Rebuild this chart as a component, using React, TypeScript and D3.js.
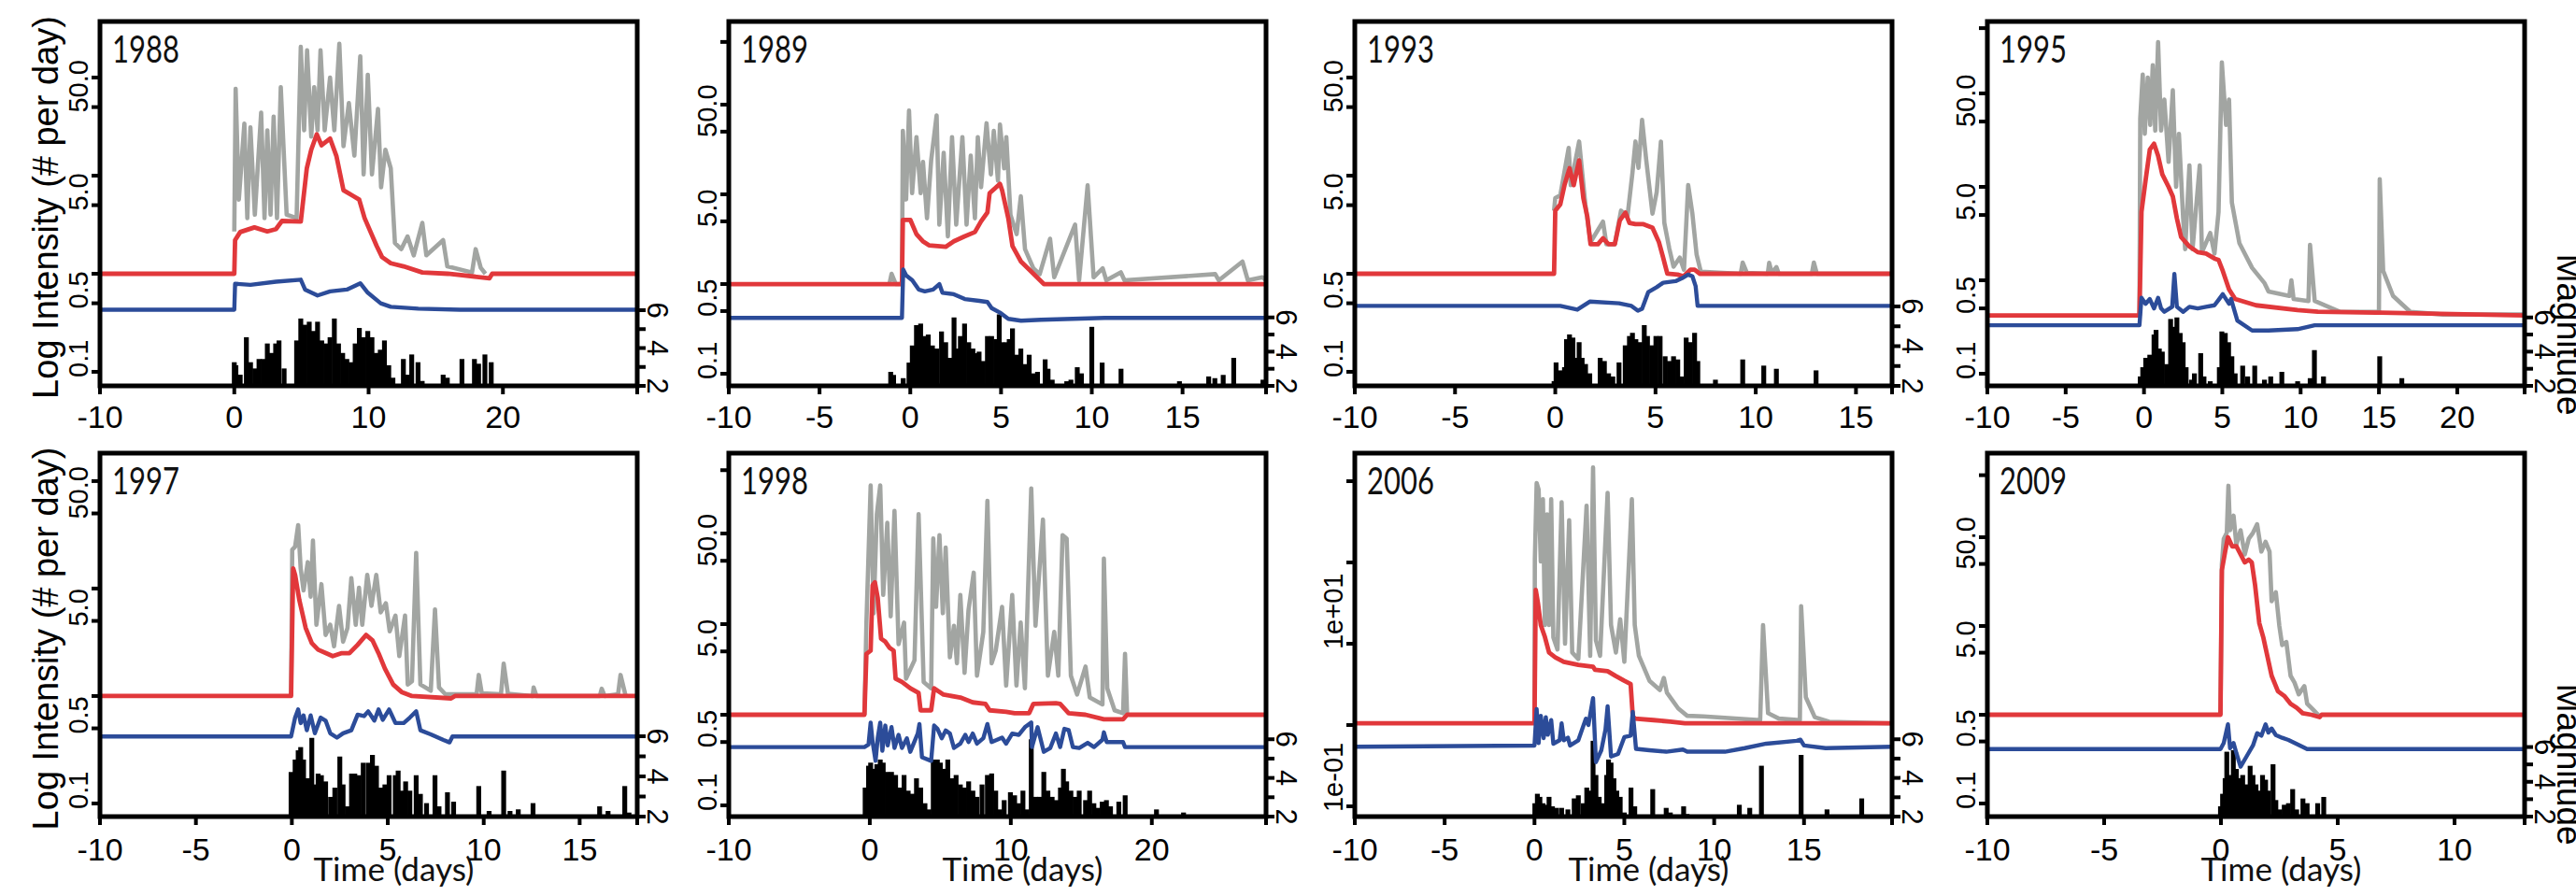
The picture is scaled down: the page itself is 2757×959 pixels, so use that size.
import React from 'react';
import * as d3 from 'd3';

type Pt = [number, number];

// ---- per-panel settings
const years = ['1988', '1989', '1993', '1995', '1997', '1998', '2006', '2009'];
const dayMax = [30, 19.6, 16.8, 24.3, 18, 28.1, 19.9, 13];
const rateLow = [0.0719, 0.0733, 0.0719, 0.0741, 0.0755, 0.0752, 0.0748, 0.0712];
const rateHigh = [373, 845, 373, 589, 182, 771, 2214, 886];
const magHigh = [21.26, 23.3, 20.35, 23.3, 20.1, 20.8, 20.8, 22.9];
const dayTicks: number[][] = [
  [-10, 0, 10, 20],
  [-10, -5, 0, 5, 10, 15],
  [-10, -5, 0, 5, 10, 15],
  [-10, -5, 0, 5, 10, 15, 20],
  [-10, -5, 0, 5, 10, 15],
  [-10, 0, 10, 20],
  [-10, -5, 0, 5, 10, 15],
  [-10, -5, 0, 5, 10],
];
const rateTicks = [0.1, 0.5, 1, 5, 10, 50, 100, 500];
const rateTickLabels: [number, string][] = [[0.1, '0.1'], [0.5, '0.5'], [5, '5.0'], [50, '50.0']];
const sciTicks = [0.1, 1, 10, 100, 1000];
const sciTickLabels: [number, string][] = [[0.1, '1e-01'], [10, '1e+01']];
const magTicks = [2, 3, 4, 5, 6];
const magTickLabels = [2, 4, 6];

// ---- 1988
const grey1988: Pt[] = [[0,2.7],[0.1,77],[0.34,5.7],[0.75,34],[0.97,3.7],[1.2,31],[1.53,4],[2,44],[2.25,3.7],[2.46,29],[2.7,4],[2.93,40],[3.18,3.7],[3.46,80],[3.9,4],[4.64,3.7],[4.95,206],[5.2,29],[5.42,190],[5.73,25],[5.95,80],[6.2,29],[6.42,190],[6.73,29],[7.13,100],[7.45,29],[7.82,221],[8.13,20],[8.53,55],[8.94,16],[9.38,165],[9.63,10.3],[9.94,107],[10.25,10.3],[10.7,48],[10.93,7.6],[11.25,18.4],[11.65,11.9],[11.96,2.06],[12.43,1.78],[12.9,2.4],[13.36,1.54],[14,3.3],[14.3,1.54],[15.55,2.2],[15.86,1.19],[17.7,1.03],[17.97,1.78],[18.35,1.15],[18.7,1]];
const red1988: Pt[] = [[-10,1],[0,1],[0.06,2.2],[0.44,2.66],[1.5,2.97],[2.46,2.7],[3.1,2.85],[3.55,3.45],[4.95,3.4],[5.4,11.9],[5.73,18.4],[6.14,26.4],[6.5,20.4],[7.13,23.9],[7.6,15.9],[8.13,7.1],[8.85,6.2],[9.3,5.7],[9.7,3.7],[10.6,1.92],[11,1.48],[11.65,1.28],[12.6,1.19],[14,1.03],[15.9,1],[19,0.9],[19.2,1],[30,1]];
const blue1988: Pt[] = [[-10,0.43],[0,0.43],[0.06,0.79],[1.2,0.77],[3.1,0.83],[4.95,0.87],[5.27,0.69],[6.2,0.6],[7.13,0.66],[8.38,0.69],[9.38,0.8],[9.94,0.64],[10.9,0.5],[11.65,0.46],[13.7,0.44],[16.8,0.43],[30,0.43]];
const mags1988: Pt[] = [[0,3.25],[0.12,3.09],[0.44,2.59],[0.9,4.57],[1.21,3.25],[1.53,2.92],[1.84,3.42],[2.15,3.42],[2.46,4.24],[2.77,3.74],[3.08,4.24],[3.33,4.4],[3.71,2.92],[4.02,2.1],[4.64,4.4],[4.95,5.56],[5.26,5.23],[5.58,5.39],[5.89,4.9],[6.2,5.39],[6.51,4.4],[6.82,4.24],[7.13,4.57],[7.45,5.56],[7.76,4.24],[8.07,3.74],[8.38,3.42],[8.69,3.25],[9,4.24],[9.31,5.06],[9.63,4.57],[9.94,4.9],[10.25,4.57],[10.56,3.74],[10.87,3.91],[11.18,4.4],[11.5,3.09],[11.81,2.43],[12.59,3.42],[12.9,2.59],[13.21,3.66],[13.68,3.25],[13.99,2.26],[15.55,2.59],[15.86,2.43],[16.95,3.42],[17.88,3.42],[18.19,3.17],[18.66,3.66],[19.13,3.25]];

// ---- 1989
const grey1989: Pt[] = [[-1.15,1],[-1.03,1.3],[-0.8,1],[-0.46,1],[-0.41,51],[-0.23,8.8],[-0.07,86],[0.1,10.3],[0.34,43.5],[0.57,10.3],[0.7,23],[0.92,5.4],[1.15,24],[1.45,76],[1.6,4.6],[1.84,29],[2.07,3.4],[2.3,43.5],[2.53,4.6],[2.87,43.5],[3.1,4.6],[3.33,27],[3.56,5.4],[3.72,43.5],[3.9,12],[4.2,62],[4.44,16.7],[4.6,51],[4.83,14.2],[4.94,60],[5.17,19.5],[5.29,43.5],[5.52,5.9],[5.86,3.6],[6.09,9.5],[6.32,2.45],[6.78,1.5],[7.13,1.29],[7.7,3.2],[7.93,1.19],[9.08,4.6],[9.3,1.1],[9.77,12.6],[10.1,1.19],[10.6,1.5],[10.8,1.1],[11.6,1.35],[11.8,1.1],[16.8,1.29],[17,1.1],[18.3,1.78],[18.6,1.1],[19.4,1.19],[19.6,1.1]];
const red1989: Pt[] = [[-10,1],[-0.46,1],[-0.41,5.2],[0,5.2],[0.34,3.6],[0.69,3],[1.03,2.7],[1.5,2.65],[1.95,2.6],[2.4,3],[2.99,3.4],[3.56,3.8],[3.9,5],[4.25,6.3],[4.37,10.3],[4.94,13.1],[5.06,11.1],[5.4,5.4],[5.63,2.65],[6.1,1.78],[6.55,1.45],[7.36,1],[19.6,1]];
const blue1989: Pt[] = [[-10,0.42],[-0.46,0.42],[-0.39,1.45],[-0.23,1.25],[0.11,1.1],[0.46,0.87],[0.8,0.83],[1.26,0.87],[1.6,1],[1.77,0.8],[2.4,0.77],[3,0.68],[3.8,0.65],[4.25,0.63],[4.48,0.54],[4.94,0.48],[5.4,0.41],[6.1,0.39],[7.2,0.4],[10.7,0.42],[19.6,0.42]];
const mags1989: Pt[] = [[-1.08,2.82],[-0.92,2.64],[-0.39,2.45],[-0.07,3.36],[0.11,4.36],[0.34,5.55],[0.57,5.64],[0.76,4.91],[0.99,5],[1.22,4.36],[1.45,4.18],[1.72,5.18],[1.95,4.55],[2.18,3.64],[2.41,6],[2.6,4.18],[2.76,4.91],[2.99,5.64],[3.22,4.55],[3.45,4.18],[3.61,3.91],[3.79,4],[4.02,3.45],[4.25,4.91],[4.48,4.91],[4.71,4.73],[4.9,6.18],[5.06,4.55],[5.29,4.55],[5.45,4.73],[5.63,5.36],[5.86,3.82],[6.09,4.18],[6.32,3.27],[6.55,3.82],[6.78,2.73],[7.01,2.82],[7.43,3.55],[7.59,3],[7.82,2.36],[8.62,2.27],[8.85,2.36],[9.2,3.09],[9.43,2.73],[10,5.45],[10.57,3.36],[11.61,3],[14.83,2.27],[16.44,2.55],[16.78,2.45],[17.24,2.64],[17.82,3.64],[19.43,2.36]];

// ---- 1993
const grey1993: Pt[] = [[-0.06,4.4],[0,5.9],[0.25,6.3],[0.67,19.2],[0.77,8],[1.19,22.3],[1.5,5.1],[1.76,2.1],[2.38,3.4],[2.55,2],[2.97,2],[3.28,4.4],[3.6,3.8],[3.85,10.7],[4,22.3],[4.15,12],[4.33,37],[4.54,14.3],[4.85,4.1],[5.06,6.8],[5.27,22.3],[5.44,3.3],[5.69,1.8],[5.9,1.18],[6.21,1.46],[6.42,1.1],[6.63,8],[6.84,4.1],[7.05,1.57],[7.26,1.05],[9.25,1],[9.35,1.3],[9.56,1.02],[10.6,1],[10.67,1.29],[10.8,1.02],[11.03,1.17],[11.15,1],[12.8,1],[12.9,1.3],[13.05,1],[16.8,1]];
const red1993: Pt[] = [[-10,1],[-0.06,1],[0,4.4],[0.25,5.1],[0.46,8],[0.71,11.9],[0.92,8],[1.19,14.3],[1.4,5.9],[1.6,3.8],[1.76,2],[2.13,2],[2.38,2.3],[2.66,2],[2.97,2],[3.22,3.5],[3.5,4.2],[3.7,3.3],[4,3.2],[4.4,3.2],[4.85,2.95],[5.17,2.1],[5.38,1.46],[5.59,1],[6.1,0.98],[6.4,0.94],[6.74,1.1],[6.95,1.1],[7.2,1],[16.8,1]];
const blue1993: Pt[] = [[-10,0.47],[0.25,0.47],[1.1,0.43],[1.72,0.52],[3.18,0.5],[3.8,0.47],[4.12,0.42],[4.33,0.44],[4.64,0.65],[5.06,0.73],[5.38,0.81],[6,0.84],[6.32,0.9],[6.63,0.98],[6.84,0.94],[7,0.75],[7.1,0.47],[16.8,0.47]];
const mags1993: Pt[] = [[-0.06,2.24],[0.04,3.18],[0.25,2.78],[0.46,2.94],[0.56,4.35],[0.71,4.59],[0.88,4.43],[0.98,3.41],[1.19,4.2],[1.34,3.41],[1.51,3.1],[1.72,2.63],[2.24,3.41],[2.45,3.25],[2.66,2.63],[2.87,2.47],[3.18,3.18],[3.49,4.04],[3.7,4.51],[3.85,4.67],[4.02,4.35],[4.23,4.2],[4.44,5.06],[4.6,4.51],[4.81,4.04],[5.02,4.51],[5.23,4.51],[5.48,3.49],[5.69,3.25],[5.9,3.49],[6.11,3.33],[6.32,2.47],[6.53,4.43],[6.74,4.2],[6.95,4.67],[7.11,3.25],[7.99,2.31],[9.35,3.33],[10.4,3.02],[11.03,2.86],[13.01,2.78]];

// ---- 1995
const grey1995: Pt[] = [[-0.29,0.42],[-0.24,54],[-0.08,159],[0.05,37],[0.24,148],[0.4,46],[0.56,200],[0.72,40],[0.9,354],[1.09,40],[1.3,86],[1.57,18.5],[1.84,108],[2.05,10],[2.23,37],[2.5,4.6],[2.63,2.15],[2.9,17],[3.1,2.15],[3.56,17],[3.7,2],[4.23,3.2],[4.5,1.93],[4.76,5.4],[4.97,215],[5.24,46],[5.43,86],[5.61,6.8],[6.09,2.5],[6.9,1.36],[7.7,0.93],[7.95,0.76],[9.28,0.68],[9.41,1],[9.55,0.63],[10.5,0.6],[10.6,2.4],[10.9,0.6],[12.5,0.46],[15,0.46],[15.05,12.1],[15.27,1.26],[15.9,0.68],[17,0.46],[19.1,0.43],[24.3,0.43]];
const red1995: Pt[] = [[-10,0.42],[-0.29,0.42],[-0.16,5.4],[0.1,11.7],[0.37,25],[0.64,29],[0.9,21.5],[1.17,13.6],[1.57,10],[1.84,7.9],[2.1,4.6],[2.37,2.9],[2.9,2.3],[3.43,2],[3.96,1.93],[4.5,1.71],[4.76,1.65],[5.03,1.26],[5.43,0.8],[5.82,0.63],[7.15,0.54],[9.8,0.48],[11.1,0.46],[15.1,0.45],[24.3,0.42]];
const blue1995: Pt[] = [[-10,0.33],[-0.29,0.33],[-0.16,0.65],[0.1,0.56],[0.37,0.63],[0.64,0.5],[0.9,0.65],[1.09,0.5],[1.3,0.46],[1.8,0.52],[1.94,1.17],[2.1,0.52],[2.5,0.46],[2.9,0.52],[3.43,0.5],[3.96,0.52],[4.5,0.54],[4.8,0.63],[5.03,0.71],[5.43,0.56],[5.56,0.63],[5.96,0.37],[6.9,0.29],[7.95,0.29],[9.8,0.3],[10.9,0.33],[15.1,0.33],[24.3,0.33]];
const mags1995: Pt[] = [[-0.24,2.55],[-0.08,3.09],[0.11,3.64],[0.37,3.82],[0.64,5],[0.77,5.27],[0.98,4.18],[1.17,4],[1.44,3.27],[1.7,5.91],[1.89,5.45],[2.1,6],[2.31,5.09],[2.5,4.55],[2.69,3.09],[3.03,2.36],[3.22,2.73],[3.62,3.91],[3.83,2.55],[4.23,2.27],[4.81,3.09],[4.97,5.18],[5.19,5.09],[5.4,4.55],[5.61,3.73],[5.82,2.73],[6.3,3.18],[6.62,2.55],[7.07,3.18],[7.69,2.36],[8.09,2.55],[8.8,2.82],[9.81,2.27],[10.61,2.45],[10.88,4.09],[11.46,2.55],[15.05,3.73],[16.46,2.45]];

// ---- 1997
const grey1997: Pt[] = [[-0.04,1],[0.02,23],[0.17,24.5],[0.33,39],[0.46,15.4],[0.61,9.6],[0.83,17.6],[0.98,8.4],[1.1,28],[1.28,4.6],[1.54,11],[1.76,3.7],[2,4.6],[2.2,2.9],[2.46,6.9],[2.67,3.2],[2.9,4.3],[3.1,12.5],[3.33,4.6],[3.5,10.2],[3.67,4.6],[3.93,13.4],[4.15,6.9],[4.4,13.4],[4.63,6],[4.9,7.3],[5.1,4],[5.4,5.6],[5.6,2.35],[5.9,5.6],[6.04,1.28],[6.26,1.37],[6.48,21.5],[6.7,1.28],[7.24,1.12],[7.46,6.4],[7.67,1.2],[8,1.04],[9.63,1.04],[9.74,1.57],[9.9,1.06],[10.9,1.04],[11.04,2],[11.26,1.05],[12.55,1],[12.6,1.2],[12.75,1],[16.05,1],[16.15,1.17],[16.3,1],[17,1.04],[17.13,1.57],[17.4,1]];
const red1997: Pt[] = [[-10,1],[-0.04,1],[0.07,15.4],[0.17,13.4],[0.39,7.8],[0.72,4.3],[1.04,3.1],[1.37,2.7],[1.8,2.5],[2.13,2.35],[2.57,2.5],[3,2.5],[3.43,3],[3.87,3.7],[4.2,3.3],[4.52,2.5],[4.85,1.8],[5.28,1.28],[5.72,1.09],[6.26,1],[8.3,0.95],[8.5,1],[18,1]];
const blue1997: Pt[] = [[-10,0.42],[-0.04,0.42],[0.17,0.63],[0.33,0.75],[0.46,0.56],[0.61,0.66],[0.78,0.48],[0.98,0.66],[1.2,0.45],[1.5,0.63],[1.76,0.59],[2,0.45],[2.35,0.41],[2.67,0.45],[3.1,0.48],[3.43,0.67],[3.76,0.65],[3.98,0.72],[4.3,0.59],[4.52,0.75],[4.74,0.6],[5.07,0.75],[5.4,0.56],[5.83,0.56],[6.15,0.63],[6.48,0.72],[6.7,0.48],[7.24,0.44],[7.9,0.39],[8.22,0.37],[8.37,0.42],[18,0.42]];
const mags1997: Pt[] = [[-0.04,4.22],[0.17,4.84],[0.33,5.3],[0.46,5.46],[0.61,4.84],[0.76,3.91],[0.93,3.91],[1.04,5.92],[1.2,3.6],[1.37,4.14],[1.54,4.06],[1.76,3.75],[2.02,2.98],[2.24,3.44],[2.5,4.99],[2.67,3.6],[2.89,2.51],[3.11,4.14],[3.28,4.14],[3.5,4.06],[3.72,4.68],[3.98,4.68],[4.2,5.07],[4.41,4.53],[4.63,3.44],[4.85,3.6],[5.07,4.06],[5.39,4.06],[5.54,4.29],[5.72,3.29],[5.93,3.75],[6.15,3.29],[6.48,4.06],[6.7,3.13],[7.02,2.67],[7.46,4.06],[7.67,2.51],[8.11,3.21],[8.43,2.74],[9.74,3.52],[10.28,2.28],[11.04,4.29],[11.37,2.28],[11.8,2.36],[12.57,2.67],[16.04,2.51],[16.48,2.28],[17.35,3.52],[17.57,2.2]];

// ---- 1998
const grey1998: Pt[] = [[-0.38,1],[-0.24,10.4],[0.06,340],[0.27,13.2],[0.5,164],[0.74,340],[0.95,21],[1.24,131],[1.48,12.2],[1.75,178],[2.04,6],[2.43,10.4],[2.57,2.5],[3.17,4],[3.46,164],[3.82,2.3],[4.35,1.96],[4.5,88],[4.7,15.5],[4.94,96],[5.18,13.2],[5.38,70],[5.68,4.3],[5.97,9.6],[6.18,3.7],[6.42,21],[6.72,2.9],[7,14.3],[7.37,37],[7.6,2.7],[8.05,8.2],[8.34,230],[8.64,3.7],[8.93,5.1],[9.38,15.5],[9.67,2.1],[10.1,21],[10.4,2.1],[10.7,10.4],[11,1.96],[11.45,315],[11.75,9.6],[12.28,143],[12.63,2.7],[13.08,8.2],[13.37,2.7],[13.67,96],[13.96,88],[14.26,2.7],[14.7,1.67],[15.3,3.4],[15.6,1.55],[16.5,1.3],[16.6,53],[16.84,1.96],[17.36,1.12],[17.96,1.04],[18.1,4.7],[18.25,1]];
const red1998: Pt[] = [[-10,1],[-0.38,1],[-0.24,4.7],[0.06,5.1],[0.2,26.9],[0.36,29],[0.56,19.5],[0.8,6.9],[1.1,6.4],[1.39,5.5],[1.69,5.1],[1.83,2.5],[2.28,2.3],[2.87,1.96],[3.46,1.74],[3.6,1.12],[4.35,1.12],[4.56,1.96],[5.23,1.67],[6.42,1.55],[7.3,1.37],[8.2,1.32],[8.5,1.12],[9.67,1.08],[10.27,1.04],[11.3,1.04],[11.6,1.32],[13.2,1.34],[13.5,1.32],[14.1,1.04],[15.3,1],[16.6,0.89],[17.96,0.89],[18.25,1],[28.1,1]];
const blue1998: Pt[] = [[-10,0.44],[-0.38,0.44],[-0.09,0.47],[0.06,0.82],[0.2,0.5],[0.41,0.31],[0.56,0.55],[0.74,0.82],[0.89,0.4],[1.1,0.76],[1.27,0.46],[1.54,0.73],[1.75,0.43],[2.04,0.6],[2.28,0.43],[2.63,0.55],[2.87,0.39],[3.4,0.62],[3.52,0.79],[3.7,0.34],[4.35,0.31],[4.56,0.76],[4.8,0.7],[5.1,0.55],[5.38,0.67],[5.68,0.62],[5.97,0.43],[6.42,0.48],[6.77,0.6],[7,0.5],[7.3,0.62],[7.6,0.48],[8.05,0.55],[8.34,0.79],[8.64,0.5],[9.38,0.56],[9.67,0.48],[10.1,0.62],[10.56,0.6],[11,0.73],[11.45,0.82],[11.5,0.44],[11.9,0.73],[12.34,0.39],[12.8,0.43],[13.2,0.62],[13.5,0.44],[13.8,0.7],[14.1,0.68],[14.4,0.44],[14.85,0.43],[15.45,0.49],[15.9,0.44],[16.5,0.53],[16.6,0.64],[16.8,0.5],[17.96,0.5],[18.1,0.44],[28.1,0.44]];
const mags1998: Pt[] = [[-0.33,3.5],[-0.09,4.63],[0.06,4.79],[0.27,4.47],[0.5,4.71],[0.74,4.95],[0.95,4.79],[1.24,4.31],[1.54,4.31],[1.83,4.15],[2.13,3.5],[2.43,4.15],[2.72,3.34],[3.02,3.18],[3.31,3.98],[3.61,3.5],[3.91,2.69],[4.2,2.37],[4.5,4.95],[4.79,4.95],[5,4.79],[5.24,4.47],[5.53,4.95],[5.83,3.98],[6.12,4.15],[6.42,3.66],[6.72,3.5],[7.01,3.82],[7.31,3.34],[7.6,3.02],[7.96,3.66],[8.34,4.15],[8.64,4.23],[8.93,3.34],[9.23,2.37],[9.53,2.85],[9.97,3.26],[10.27,3.1],[10.56,2.69],[10.86,3.34],[11.15,2.37],[11.45,6],[11.75,3.02],[12.04,3.02],[12.34,4.31],[12.63,3.34],[12.93,3.02],[13.22,2.85],[13.52,3.5],[13.73,4.47],[13.96,3.82],[14.26,3.34],[14.56,3.02],[14.85,3.34],[15.3,2.85],[15.59,3.34],[15.89,2.69],[16.18,2.45],[16.48,2.77],[16.78,2.85],[17.07,2.53],[17.66,2.77],[18.11,3.1],[20.33,2.37],[22.25,2.21]];

// ---- 2006
const grey2006: Pt[] = [[0,1.05],[0.02,110],[0.12,950],[0.23,790],[0.35,103],[0.47,600],[0.58,17],[0.7,390],[0.81,17],[0.93,600],[1.05,12],[1.28,8.5],[1.51,550],[1.7,10],[1.93,330],[2.1,7.8],[2.44,6.5],[2.9,500],[3.1,7.1],[3.26,1480],[3.42,11],[3.65,7.1],[4.07,720],[4.26,17],[4.53,7.8],[4.77,20],[5,6],[5.42,600],[5.58,17],[5.81,7.1],[6.4,3.5],[6.98,2.7],[7.2,3.8],[7.37,2.5],[8,1.6],[8.5,1.3],[9.4,1.28],[12.56,1.15],[12.72,17],[13,1.4],[13.6,1.2],[14.77,1.15],[14.84,29],[15.1,2.2],[15.6,1.25],[16.4,1.1],[19.9,1.05]];
const red2006: Pt[] = [[-10,1.05],[0,1.05],[0.07,46],[0.19,32],[0.35,17],[0.58,12.1],[0.81,7.8],[1.16,6.8],[1.63,6],[2.44,5.5],[3.26,5.2],[3.37,4.8],[4.07,4.6],[4.53,4],[5,3.5],[5.35,3.2],[5.47,1.3],[5.58,1.2],[6.63,1.15],[7.56,1.1],[8.37,1.05],[19.9,1.05]];
const blue2006: Pt[] = [[-10,0.54],[0,0.56],[0.12,1.57],[0.23,0.6],[0.35,1.3],[0.51,0.69],[0.63,1.25],[0.74,0.76],[0.93,1.15],[1.05,0.59],[1.4,0.65],[1.51,1.05],[1.63,0.65],[1.86,0.7],[1.98,0.56],[2.44,0.65],[2.86,1.2],[3,1],[3.26,2.15],[3.42,0.35],[3.72,0.49],[3.95,0.88],[4.07,1.7],[4.26,0.41],[4.65,0.44],[5,0.71],[5.35,0.74],[5.47,1.45],[5.65,0.51],[6.4,0.49],[7.33,0.47],[8.26,0.5],[8.5,0.47],[10.6,0.47],[11.7,0.52],[12.9,0.59],[14.6,0.64],[14.8,0.66],[15,0.56],[16.2,0.52],[19.9,0.54]];
const mags2006: Pt[] = [[0.02,2.69],[0.16,3.18],[0.3,3.02],[0.47,2.69],[0.63,2.61],[0.81,3.02],[1,2.53],[1.23,2.45],[1.51,2.45],[1.86,2.37],[2.21,2.94],[2.44,3.1],[2.72,2.69],[2.91,3.5],[3.09,3.34],[3.26,5.92],[3.42,4.15],[3.6,3.02],[3.84,2.69],[4.02,4.15],[4.12,4.95],[4.26,4.79],[4.42,3.98],[4.58,3.34],[4.77,3.02],[5,2.21],[5.37,3.5],[5.58,2.53],[6.58,3.42],[7.33,2.45],[7.56,2.21],[8.3,2.53],[8.49,2.13],[11.4,2.61],[11.98,2.45],[12.63,4.63],[14.84,5.19],[16.28,2.37],[18.21,2.94]];

// ---- 2009
const grey2009: Pt[] = [[-0.02,1],[0.04,50],[0.12,96],[0.25,112],[0.32,380],[0.39,120],[0.54,175],[0.66,82],[0.84,120],[1.02,64],[1.19,96],[1.37,112],[1.55,140],[1.73,69],[1.91,89],[2.08,69],[2.17,19],[2.35,24],[2.5,10],[2.62,6.1],[2.8,6.6],[2.98,2.75],[3.15,2.3],[3.33,1.7],[3.57,2.1],[3.69,1.33],[3.96,1.13],[4.22,0.96]];
const red2009: Pt[] = [[-10,1],[-0.02,1],[0.04,42.6],[0.18,69],[0.3,100],[0.48,79],[0.66,79],[0.78,69],[1.02,52],[1.19,56],[1.32,52],[1.46,29],[1.64,10.8],[1.82,7.3],[2,4.4],[2.17,2.75],[2.44,1.84],[2.71,1.63],[2.98,1.33],[3.24,1.2],[3.5,1.04],[3.87,1],[4.22,0.94],[4.31,1],[13,1]];
const blue2009: Pt[] = [[-10,0.41],[-0.02,0.41],[0.12,0.48],[0.3,0.78],[0.39,0.42],[0.54,0.48],[0.66,0.37],[0.84,0.26],[1.1,0.34],[1.37,0.45],[1.55,0.62],[1.73,0.58],[1.91,0.78],[2.03,0.63],[2.17,0.7],[2.35,0.59],[2.62,0.55],[2.89,0.52],[3.24,0.47],[3.69,0.41],[13,0.41]];
const mags2009: Pt[] = [[-0.02,2.59],[0.07,3.31],[0.18,4.21],[0.25,5.73],[0.39,4.39],[0.53,5.82],[0.66,4.74],[0.78,4.21],[0.93,4.39],[1.07,3.85],[1.25,4.92],[1.37,4.39],[1.5,3.85],[1.64,3.49],[1.78,4.39],[1.91,4.12],[2.03,3.49],[2.23,5.01],[2.35,2.95],[2.53,2.41],[2.71,2.68],[2.89,2.77],[3.07,3.58],[3.24,2.41],[3.51,3.04],[3.69,2.77],[4.14,2.77],[4.4,3.13]];

const greySeries = [grey1988, grey1989, grey1993, grey1995, grey1997, grey1998, grey2006, grey2009];
const redSeries = [red1988, red1989, red1993, red1995, red1997, red1998, red2006, red2009];
const blueSeries = [blue1988, blue1989, blue1993, blue1995, blue1997, blue1998, blue2006, blue2009];
const magSeries = [mags1988, mags1989, mags1993, mags1995, mags1997, mags1998, mags2006, mags2009];

// ---- layout
const W = 2757;
const H = 959;
const colLeft = [107, 780, 1450, 2127];
const plotW = 575;
const rowTop = [23, 485];
const rowBottom = [413, 874];

const GREY = '#a2a5a2';
const RED = '#e1383b';
const BLUE = '#2c4c99';
const tickFont = '"Liberation Sans", Arial, Helvetica, sans-serif';
const labelFont = 'Lato, "Liberation Sans", sans-serif';

function Panel({ i }: { i: number }) {
  const col = i % 4;
  const row = Math.floor(i / 4);
  const left = colLeft[col];
  const right = left + plotW;
  const top = rowTop[row];
  const bottom = rowBottom[row];

  const x = d3.scaleLinear().domain([-10, dayMax[i]]).range([left, right]);
  const y = d3.scaleLog().domain([rateLow[i], rateHigh[i]]).range([bottom, top]);
  const m = d3.scaleLinear().domain([2, magHigh[i]]).range([bottom, top]);
  const path = d3.line<Pt>().x(d => x(d[0])).y(d => y(d[1]));

  // 2006 uses scientific labels on its log axis
  const sci = years[i] === '2006';
  const yTicks = (sci ? sciTicks : rateTicks).filter(v => v >= rateLow[i] && v <= rateHigh[i]);
  const yLabels = sci ? sciTickLabels : rateTickLabels;
  const clipId = `clip-${years[i]}`;
  const xTicks = [...dayTicks[i], dayMax[i]];

  return (
    <g>
      <defs>
        <clipPath id={clipId}>
          <rect x={left} y={top} width={plotW} height={bottom - top} />
        </clipPath>
      </defs>
      <g clipPath={`url(#${clipId})`}>
        {magSeries[i].map(([t, mag], k) => (
          <line key={k} x1={x(t)} x2={x(t)} y1={m(2)} y2={m(mag)} stroke="#000" strokeWidth={5.2} />
        ))}
        <path d={path(greySeries[i]) ?? ''} fill="none" stroke={GREY} strokeWidth={4.6} strokeLinejoin="round" />
        <path d={path(redSeries[i]) ?? ''} fill="none" stroke={RED} strokeWidth={4.8} strokeLinejoin="round" />
        <path d={path(blueSeries[i]) ?? ''} fill="none" stroke={BLUE} strokeWidth={4.4} strokeLinejoin="round" />
      </g>
      <rect x={left} y={top} width={plotW} height={bottom - top} fill="none" stroke="#000" strokeWidth={5} />

      {/* left log axis */}
      {yTicks.map(v => (
        <line key={v} x1={left} x2={left - 9} y1={y(v)} y2={y(v)} stroke="#000" strokeWidth={4} />
      ))}
      {yLabels.map(([v, s]) => (
        <text key={s} transform={`translate(${left - 13},${y(v) + 6}) rotate(-90)`}
          fontSize={29} fontFamily={tickFont} fill="#000">{s}</text>
      ))}

      {/* right magnitude axis */}
      {magTicks.map(v => (
        <line key={v} x1={right} x2={right + 9} y1={m(v)} y2={m(v)} stroke="#000" strokeWidth={4} />
      ))}
      {magTickLabels.map(v => (
        <text key={v} transform={`translate(${right + 11},${m(v)}) rotate(90)`} textAnchor="middle"
          fontSize={31} fontFamily={tickFont} fill="#000">{v}</text>
      ))}

      {/* time axis */}
      {xTicks.map(t => (
        <line key={t} x1={x(t)} x2={x(t)} y1={bottom} y2={bottom + 9} stroke="#000" strokeWidth={4} />
      ))}
      {dayTicks[i].map(t => (
        <text key={t} x={x(t)} y={bottom + 45 + row * 2} textAnchor="middle"
          fontSize={34} fontFamily={tickFont} fill="#000">{t}</text>
      ))}

      <text x={left + 13} y={top + 44} fontSize={40} fontFamily={labelFont}
        textLength={72} lengthAdjust="spacingAndGlyphs" fill="#111">{years[i]}</text>

      {row === 1 && (
        <text x={(left + right) / 2 + 27} y={943} textAnchor="middle" fontSize={35} fontFamily={labelFont}
          textLength={172} lengthAdjust="spacingAndGlyphs" fill="#111">Time (days)</text>
      )}
      {col === 0 && (
        <text transform={`translate(62,${(top + bottom) / 2 + 4}) rotate(-90)`} textAnchor="middle"
          fontSize={38} fontFamily={tickFont} fill="#000">Log Intensity (# per day)</text>
      )}
      {col === 3 && (
        <text transform={`translate(2737,${m(5)}) rotate(90)`} textAnchor="middle"
          fontSize={37} fontFamily={tickFont} fill="#000">Magnitude</text>
      )}
    </g>
  );
}

export default function App() {
  return (
    <>
      <style>{'body{margin:0}'}</style>
      <svg width={W} height={H} style={{ display: 'block', background: '#fff' }}>
        {years.map((yr, i) => <Panel key={yr} i={i} />)}
      </svg>
    </>
  );
}
